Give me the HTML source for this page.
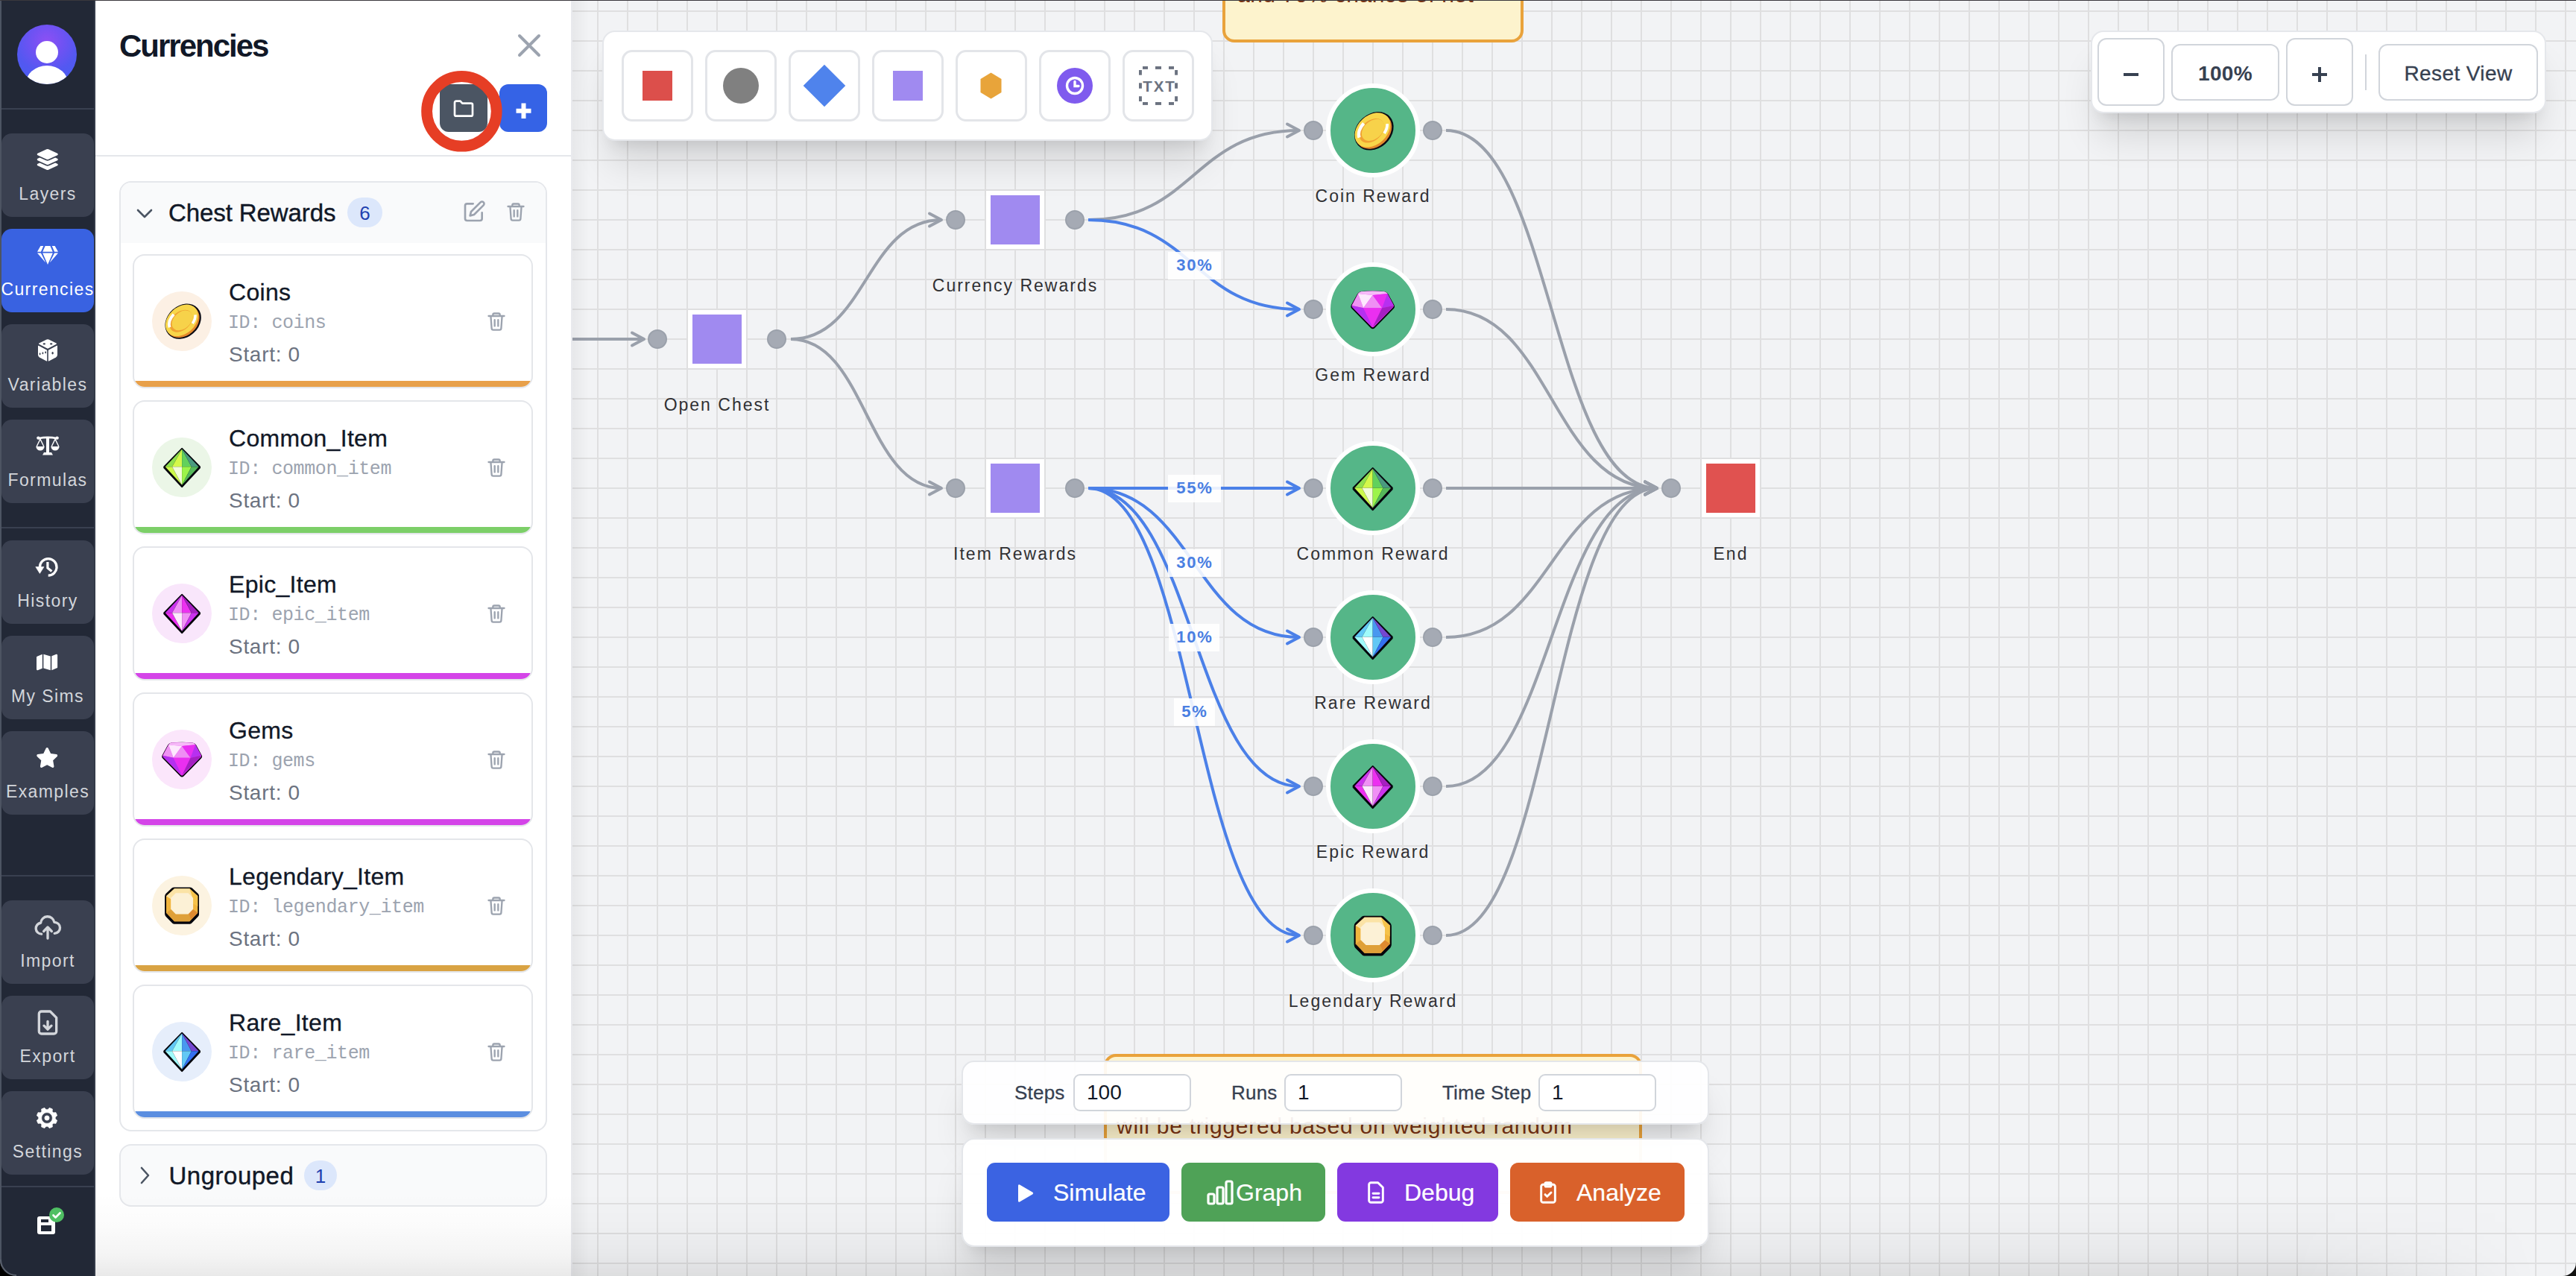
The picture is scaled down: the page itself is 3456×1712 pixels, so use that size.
<!DOCTYPE html>
<html><head><meta charset="utf-8">
<style>
html,body{margin:0;padding:0;width:3456px;height:1712px;overflow:hidden;background:#f2f3f5;font-family:"Liberation Sans",sans-serif;}
.a{position:absolute;display:block}
.t{position:absolute;white-space:nowrap;line-height:1}
svg.a{overflow:visible}
</style><script>(function(){var w=window.innerWidth;if(w&&Math.abs(w-3456)>4){document.documentElement.style.zoom=(w/3456);}})();</script></head><body>
<div class="a" style="left:768px;top:0;width:2688px;height:1712px;background-color:#f2f3f5;background-image:linear-gradient(to right,#dfdfe0 2px,transparent 2px),linear-gradient(to bottom,#dfdfe0 2px,transparent 2px);background-size:40px 40px;background-position:33px 14px"></div>
<svg class="a" style="left:0;top:0" width="3456" height="1712"><path d="M700 455 C782.0 455 782.0 455 864 455" fill="none" stroke="#9aa0ab" stroke-width="4"/><path d="M848 446.5 L864 455 L848 463.5" fill="none" stroke="#9aa0ab" stroke-width="4" stroke-linecap="round" stroke-linejoin="round"/><path d="M1061 455 C1162.0 455 1162.0 295 1263 295" fill="none" stroke="#9aa0ab" stroke-width="4"/><path d="M1247 286.5 L1263 295 L1247 303.5" fill="none" stroke="#9aa0ab" stroke-width="4" stroke-linecap="round" stroke-linejoin="round"/><path d="M1061 455 C1162.0 455 1162.0 655 1263 655" fill="none" stroke="#9aa0ab" stroke-width="4"/><path d="M1247 646.5 L1263 655 L1247 663.5" fill="none" stroke="#9aa0ab" stroke-width="4" stroke-linecap="round" stroke-linejoin="round"/><path d="M1460 295 C1601.5 295 1601.5 175 1743 175" fill="none" stroke="#9aa0ab" stroke-width="4"/><path d="M1727 166.5 L1743 175 L1727 183.5" fill="none" stroke="#9aa0ab" stroke-width="4" stroke-linecap="round" stroke-linejoin="round"/><path d="M1460 295 C1601.5 295 1601.5 415 1743 415" fill="none" stroke="#4b80e8" stroke-width="4"/><path d="M1727 406.5 L1743 415 L1727 423.5" fill="none" stroke="#4b80e8" stroke-width="4" stroke-linecap="round" stroke-linejoin="round"/><path d="M1460 655 C1601.5 655 1601.5 655 1743 655" fill="none" stroke="#4b80e8" stroke-width="4"/><path d="M1727 646.5 L1743 655 L1727 663.5" fill="none" stroke="#4b80e8" stroke-width="4" stroke-linecap="round" stroke-linejoin="round"/><path d="M1460 655 C1601.5 655 1601.5 855 1743 855" fill="none" stroke="#4b80e8" stroke-width="4"/><path d="M1727 846.5 L1743 855 L1727 863.5" fill="none" stroke="#4b80e8" stroke-width="4" stroke-linecap="round" stroke-linejoin="round"/><path d="M1460 655 C1601.5 655 1601.5 1055 1743 1055" fill="none" stroke="#4b80e8" stroke-width="4"/><path d="M1727 1046.5 L1743 1055 L1727 1063.5" fill="none" stroke="#4b80e8" stroke-width="4" stroke-linecap="round" stroke-linejoin="round"/><path d="M1460 655 C1601.5 655 1601.5 1255 1743 1255" fill="none" stroke="#4b80e8" stroke-width="4"/><path d="M1727 1246.5 L1743 1255 L1727 1263.5" fill="none" stroke="#4b80e8" stroke-width="4" stroke-linecap="round" stroke-linejoin="round"/><path d="M1940 175 C2081.5 175 2081.5 655 2223 655" fill="none" stroke="#9aa0ab" stroke-width="4"/><path d="M2207 646.5 L2223 655 L2207 663.5" fill="none" stroke="#9aa0ab" stroke-width="4" stroke-linecap="round" stroke-linejoin="round"/><path d="M1940 415 C2081.5 415 2081.5 655 2223 655" fill="none" stroke="#9aa0ab" stroke-width="4"/><path d="M2207 646.5 L2223 655 L2207 663.5" fill="none" stroke="#9aa0ab" stroke-width="4" stroke-linecap="round" stroke-linejoin="round"/><path d="M1940 655 C2081.5 655 2081.5 655 2223 655" fill="none" stroke="#9aa0ab" stroke-width="4"/><path d="M2207 646.5 L2223 655 L2207 663.5" fill="none" stroke="#9aa0ab" stroke-width="4" stroke-linecap="round" stroke-linejoin="round"/><path d="M1940 855 C2081.5 855 2081.5 655 2223 655" fill="none" stroke="#9aa0ab" stroke-width="4"/><path d="M2207 646.5 L2223 655 L2207 663.5" fill="none" stroke="#9aa0ab" stroke-width="4" stroke-linecap="round" stroke-linejoin="round"/><path d="M1940 1055 C2081.5 1055 2081.5 655 2223 655" fill="none" stroke="#9aa0ab" stroke-width="4"/><path d="M2207 646.5 L2223 655 L2207 663.5" fill="none" stroke="#9aa0ab" stroke-width="4" stroke-linecap="round" stroke-linejoin="round"/><path d="M1940 1255 C2081.5 1255 2081.5 655 2223 655" fill="none" stroke="#9aa0ab" stroke-width="4"/><path d="M2207 646.5 L2223 655 L2207 663.5" fill="none" stroke="#9aa0ab" stroke-width="4" stroke-linecap="round" stroke-linejoin="round"/></svg>
<div class="a" style="left:1566.5px;top:337.5px;width:71px;height:37px;background:rgba(255,255,255,0.88)"></div>
<div class="t" style="left:1103px;width:1000px;text-align:center;top:344.87px;font-size:22px;color:#4a7fe2;font-weight:bold;letter-spacing:1.8px;font-family:'Liberation Sans',sans-serif;">30%</div>
<div class="a" style="left:1566.5px;top:636.5px;width:71px;height:37px;background:rgba(255,255,255,0.88)"></div>
<div class="t" style="left:1103px;width:1000px;text-align:center;top:643.87px;font-size:22px;color:#4a7fe2;font-weight:bold;letter-spacing:1.8px;font-family:'Liberation Sans',sans-serif;">55%</div>
<div class="a" style="left:1566.5px;top:736.5px;width:71px;height:37px;background:rgba(255,255,255,0.88)"></div>
<div class="t" style="left:1103px;width:1000px;text-align:center;top:743.87px;font-size:22px;color:#4a7fe2;font-weight:bold;letter-spacing:1.8px;font-family:'Liberation Sans',sans-serif;">30%</div>
<div class="a" style="left:1568.0px;top:836.5px;width:68px;height:37px;background:rgba(255,255,255,0.88)"></div>
<div class="t" style="left:1103px;width:1000px;text-align:center;top:843.87px;font-size:22px;color:#4a7fe2;font-weight:bold;letter-spacing:1.8px;font-family:'Liberation Sans',sans-serif;">10%</div>
<div class="a" style="left:1574.5px;top:936.5px;width:55px;height:37px;background:rgba(255,255,255,0.88)"></div>
<div class="t" style="left:1103px;width:1000px;text-align:center;top:943.87px;font-size:22px;color:#4a7fe2;font-weight:bold;letter-spacing:1.8px;font-family:'Liberation Sans',sans-serif;">5%</div>
<div class="a" style="left:923px;top:416px;width:66px;height:66px;border:6px solid #fff;background:#a08af0"></div>
<div class="a" style="left:869px;top:442px;width:22px;height:22px;border-radius:50%;background:#a5aab4;border:2px solid #9ba1ab"></div>
<div class="a" style="left:1029px;top:442px;width:22px;height:22px;border-radius:50%;background:#a5aab4;border:2px solid #9ba1ab"></div>
<div class="t" style="left:462px;width:1000px;text-align:center;top:531.53px;font-size:23px;color:#303033;font-weight:normal;letter-spacing:2.0px;font-family:'Liberation Sans',sans-serif;">Open Chest</div>
<div class="a" style="left:1323px;top:256px;width:66px;height:66px;border:6px solid #fff;background:#a08af0"></div>
<div class="a" style="left:1269px;top:282px;width:22px;height:22px;border-radius:50%;background:#a5aab4;border:2px solid #9ba1ab"></div>
<div class="a" style="left:1429px;top:282px;width:22px;height:22px;border-radius:50%;background:#a5aab4;border:2px solid #9ba1ab"></div>
<div class="t" style="left:862px;width:1000px;text-align:center;top:371.53px;font-size:23px;color:#303033;font-weight:normal;letter-spacing:2.0px;font-family:'Liberation Sans',sans-serif;">Currency Rewards</div>
<div class="a" style="left:1323px;top:616px;width:66px;height:66px;border:6px solid #fff;background:#a08af0"></div>
<div class="a" style="left:1269px;top:642px;width:22px;height:22px;border-radius:50%;background:#a5aab4;border:2px solid #9ba1ab"></div>
<div class="a" style="left:1429px;top:642px;width:22px;height:22px;border-radius:50%;background:#a5aab4;border:2px solid #9ba1ab"></div>
<div class="t" style="left:862px;width:1000px;text-align:center;top:731.53px;font-size:23px;color:#303033;font-weight:normal;letter-spacing:2.0px;font-family:'Liberation Sans',sans-serif;">Item Rewards</div>
<div class="a" style="left:2283px;top:616px;width:66px;height:66px;border:6px solid #fff;background:#e05250"></div>
<div class="a" style="left:2229px;top:642px;width:22px;height:22px;border-radius:50%;background:#a5aab4;border:2px solid #9ba1ab"></div>
<div class="t" style="left:1822px;width:1000px;text-align:center;top:731.53px;font-size:23px;color:#303033;font-weight:normal;letter-spacing:2.0px;font-family:'Liberation Sans',sans-serif;">End</div>
<div class="a" style="left:1779px;top:112px;width:114px;height:114px;border:6px solid #fff;border-radius:50%;background:#55b688"></div>
<svg class="a" style="left:1811.3px;top:144.3px" width="61.4" height="61.4" viewBox="-32 -32 64 64"><g transform="rotate(-42)"><ellipse cx="0.5" cy="2" rx="30" ry="24" fill="#0b0b14"/><ellipse cx="0" cy="2" rx="28" ry="21.5" fill="#e4892c"/><ellipse cx="0" cy="-0.5" rx="28" ry="20.5" fill="#f8d64a"/><ellipse cx="-1.5" cy="-0.5" rx="20" ry="14" fill="#f0a233"/><ellipse cx="0.5" cy="0" rx="18" ry="12.5" fill="#f7d24a"/><path d="M-21 -5 A22 15 0 0 1 -3 -15.5" stroke="#fff" stroke-width="4.5" fill="none"/><path d="M21 7 A22 15 0 0 1 9 14" stroke="#fff" stroke-width="4" fill="none"/></g></svg>
<div class="a" style="left:1749px;top:162px;width:22px;height:22px;border-radius:50%;background:#a5aab4;border:2px solid #9ba1ab"></div>
<div class="a" style="left:1909px;top:162px;width:22px;height:22px;border-radius:50%;background:#a5aab4;border:2px solid #9ba1ab"></div>
<div class="t" style="left:1342px;width:1000px;text-align:center;top:251.53px;font-size:23px;color:#303033;font-weight:normal;letter-spacing:2.0px;font-family:'Liberation Sans',sans-serif;">Coin Reward</div>
<div class="a" style="left:1779px;top:352px;width:114px;height:114px;border:6px solid #fff;border-radius:50%;background:#55b688"></div>
<svg class="a" style="left:1811.3px;top:384.3px" width="61.4" height="61.4" viewBox="-32 -32 64 64"><path d="M-16 -24.5 Q0 -26 16 -24.5 Q19 -24 20.5 -21.5 L29 -6 Q30 -4 28.5 -2.5 L2 24.5 Q0 26.5 -2 24.5 L-28.5 -2.5 Q-30 -4 -29 -6 L-20.5 -21.5 Q-19 -24 -16 -24.5Z" fill="#05050c" stroke="#05050c" stroke-width="2.5" stroke-linejoin="round" transform="translate(0 1)"/><path d="M-16 -24.5 Q0 -26 16 -24.5 Q19 -24 20.5 -21.5 L29 -6 Q30 -4 28.5 -2.5 L2 24.5 Q0 26.5 -2 24.5 L-28.5 -2.5 Q-30 -4 -29 -6 L-20.5 -21.5 Q-19 -24 -16 -24.5Z" fill="#ea2ff0"/><path d="M-20.5 -21.5 Q-19 -24 -16 -24.5 Q0 -26 16 -24.5 Q19 -24 20.5 -21.5 L0 -19.5Z" fill="#f6baf8"/><path d="M-20.5 -21.5 L-13 -1.5 L-29 -5 Z" fill="#ef93f3"/><path d="M-20.5 -21.5 L0 -19.5 L-13 -1.5 Z" fill="#fde9fd"/><path d="M0 -19.5 L13 -1.5 H-13 Z" fill="#ef8ef4"/><path d="M0 -19.5 L20.5 -21.5 L13 -1.5 Z" fill="#e92ff0"/><path d="M20.5 -21.5 L29 -5 L13 -1.5 Z" fill="#b730f0"/><path d="M-29 -5 L-13 -1.5 L0 25 L-28.5 -2.5 Z" fill="#b530f0"/><path d="M-13 -1.5 H13 L0 25 Z" fill="#ea2ff0"/><path d="M13 -1.5 L29 -5 L28.5 -2.5 L0 25 Z" fill="#a520c2"/></svg>
<div class="a" style="left:1749px;top:402px;width:22px;height:22px;border-radius:50%;background:#a5aab4;border:2px solid #9ba1ab"></div>
<div class="a" style="left:1909px;top:402px;width:22px;height:22px;border-radius:50%;background:#a5aab4;border:2px solid #9ba1ab"></div>
<div class="t" style="left:1342px;width:1000px;text-align:center;top:491.53px;font-size:23px;color:#303033;font-weight:normal;letter-spacing:2.0px;font-family:'Liberation Sans',sans-serif;">Gem Reward</div>
<div class="a" style="left:1779px;top:592px;width:114px;height:114px;border:6px solid #fff;border-radius:50%;background:#55b688"></div>
<svg class="a" style="left:1811.3px;top:624.3px" width="61.4" height="61.4" viewBox="-32 -32 64 64"><path d="M0 -27.5 L27 0 L0 29 L-27 0 Z" fill="#05050c" stroke="#05050c" stroke-width="2.5" stroke-linejoin="round" transform="translate(0 1.5)"/><path d="M0 -27.5 L27 0 L0 29 L-27 0 Z" fill="#05050c" stroke="#05050c" stroke-width="2.5" stroke-linejoin="round"/><path d="M0 -27 L-25.5 0 L-15 0 Z" fill="#8fe04e"/><path d="M0 -27 L-15 0 L0 0 Z" fill="#d4f84a"/><path d="M0 -27 L0 0 L14.5 0 Z" fill="#62d15c"/><path d="M0 -27 L14.5 0 L25.5 0 Z" fill="#4a9a7f"/><path d="M-25.5 0 L-15 0 L0 28 Z" fill="#cdf94a"/><path d="M-15 0 L0 0 L0 28 Z" fill="#f2fcd8"/><path d="M0 0 L14.5 0 L0 28 Z" fill="#9cf44a"/><path d="M14.5 0 L25.5 0 L0 28 Z" fill="#55b85a"/></svg>
<div class="a" style="left:1749px;top:642px;width:22px;height:22px;border-radius:50%;background:#a5aab4;border:2px solid #9ba1ab"></div>
<div class="a" style="left:1909px;top:642px;width:22px;height:22px;border-radius:50%;background:#a5aab4;border:2px solid #9ba1ab"></div>
<div class="t" style="left:1342px;width:1000px;text-align:center;top:731.53px;font-size:23px;color:#303033;font-weight:normal;letter-spacing:2.0px;font-family:'Liberation Sans',sans-serif;">Common Reward</div>
<div class="a" style="left:1779px;top:792px;width:114px;height:114px;border:6px solid #fff;border-radius:50%;background:#55b688"></div>
<svg class="a" style="left:1811.3px;top:824.3px" width="61.4" height="61.4" viewBox="-32 -32 64 64"><path d="M0 -27.5 L27 0 L0 29 L-27 0 Z" fill="#05050c" stroke="#05050c" stroke-width="2.5" stroke-linejoin="round" transform="translate(0 1.5)"/><path d="M0 -27.5 L27 0 L0 29 L-27 0 Z" fill="#05050c" stroke="#05050c" stroke-width="2.5" stroke-linejoin="round"/><path d="M0 -27 L-25.5 0 L-15 0 Z" fill="#62c8f5"/><path d="M0 -27 L-15 0 L0 0 Z" fill="#a0fbfb"/><path d="M0 -27 L0 0 L14.5 0 Z" fill="#4898f0"/><path d="M0 -27 L14.5 0 L25.5 0 Z" fill="#7547d0"/><path d="M-25.5 0 L-15 0 L0 28 Z" fill="#a0fbfb"/><path d="M-15 0 L0 0 L0 28 Z" fill="#ffffff"/><path d="M0 0 L14.5 0 L0 28 Z" fill="#62c8f5"/><path d="M14.5 0 L25.5 0 L0 28 Z" fill="#3470f0"/></svg>
<div class="a" style="left:1749px;top:842px;width:22px;height:22px;border-radius:50%;background:#a5aab4;border:2px solid #9ba1ab"></div>
<div class="a" style="left:1909px;top:842px;width:22px;height:22px;border-radius:50%;background:#a5aab4;border:2px solid #9ba1ab"></div>
<div class="t" style="left:1342px;width:1000px;text-align:center;top:931.53px;font-size:23px;color:#303033;font-weight:normal;letter-spacing:2.0px;font-family:'Liberation Sans',sans-serif;">Rare Reward</div>
<div class="a" style="left:1779px;top:992px;width:114px;height:114px;border:6px solid #fff;border-radius:50%;background:#55b688"></div>
<svg class="a" style="left:1811.3px;top:1024.3px" width="61.4" height="61.4" viewBox="-32 -32 64 64"><path d="M0 -27.5 L27 0 L0 29 L-27 0 Z" fill="#05050c" stroke="#05050c" stroke-width="2.5" stroke-linejoin="round" transform="translate(0 1.5)"/><path d="M0 -27.5 L27 0 L0 29 L-27 0 Z" fill="#05050c" stroke="#05050c" stroke-width="2.5" stroke-linejoin="round"/><path d="M0 -27 L-25.5 0 L-15 0 Z" fill="#cc33ee"/><path d="M0 -27 L-15 0 L0 0 Z" fill="#f090f5"/><path d="M0 -27 L0 0 L14.5 0 Z" fill="#ec30f0"/><path d="M0 -27 L14.5 0 L25.5 0 Z" fill="#a520c0"/><path d="M-25.5 0 L-15 0 L0 28 Z" fill="#ec30f0"/><path d="M-15 0 L0 0 L0 28 Z" fill="#fdeafd"/><path d="M0 0 L14.5 0 L0 28 Z" fill="#f090f5"/><path d="M14.5 0 L25.5 0 L0 28 Z" fill="#cc33ee"/></svg>
<div class="a" style="left:1749px;top:1042px;width:22px;height:22px;border-radius:50%;background:#a5aab4;border:2px solid #9ba1ab"></div>
<div class="a" style="left:1909px;top:1042px;width:22px;height:22px;border-radius:50%;background:#a5aab4;border:2px solid #9ba1ab"></div>
<div class="t" style="left:1342px;width:1000px;text-align:center;top:1131.53px;font-size:23px;color:#303033;font-weight:normal;letter-spacing:2.0px;font-family:'Liberation Sans',sans-serif;">Epic Reward</div>
<div class="a" style="left:1779px;top:1192px;width:114px;height:114px;border:6px solid #fff;border-radius:50%;background:#55b688"></div>
<svg class="a" style="left:1811.3px;top:1224.3px" width="61.4" height="61.4" viewBox="-32 -32 64 64"><path d="M-12 -27 H12 Q14 -27 15.5 -25.7 L24.3 -17.5 Q26 -16 26 -13.5 V12.5 Q26 15 24.3 16.5 L15.5 25.5 Q14 27.5 12 27.5 H-12 Q-14 27.5 -15.5 25.5 L-24.3 16.5 Q-26 15 -26 12.5 V-13.5 Q-26 -16 -24.3 -17.5 L-15.5 -25.7 Q-14 -27 -12 -27Z" fill="#05050c" transform="translate(0 1.5)"/><path d="M-12 -27 H12 Q14 -27 15.5 -25.7 L24.3 -17.5 Q26 -16 26 -13.5 V12.5 Q26 15 24.3 16.5 L15.5 25.5 Q14 27.5 12 27.5 H-12 Q-14 27.5 -15.5 25.5 L-24.3 16.5 Q-26 15 -26 12.5 V-13.5 Q-26 -16 -24.3 -17.5 L-15.5 -25.7 Q-14 -27 -12 -27Z" fill="#05050c"/><path d="M-11.5 -25 H11.5 L24 -13.5 V12 L11.5 25 H-11.5 L-24 12 V-13.5 Z" fill="#f1b53e"/><path d="M-11.5 -25 H11.5 L24 -13.5 L17 -9 H-17 L-24 -13.5 Z" fill="#fbe3a6"/><path d="M11.5 -25 L24 -13.5 V2 L17 -2 V-9 Z" fill="#f5c24a"/><path d="M-24 12 L-17 7 H17 L24 12 L11.5 25 H-11.5 Z" fill="#dfa038"/><path d="M17 7 L24 12 L14 22 L10 13 Z" fill="#de8a30"/><path d="M-9.5 -18 H9.5 L17 -10.5 V6.5 L9.5 14 H-9.5 L-17 6.5 V-10.5 Z" fill="#fcf1d6"/></svg>
<div class="a" style="left:1749px;top:1242px;width:22px;height:22px;border-radius:50%;background:#a5aab4;border:2px solid #9ba1ab"></div>
<div class="a" style="left:1909px;top:1242px;width:22px;height:22px;border-radius:50%;background:#a5aab4;border:2px solid #9ba1ab"></div>
<div class="t" style="left:1342px;width:1000px;text-align:center;top:1331.53px;font-size:23px;color:#303033;font-weight:normal;letter-spacing:2.0px;font-family:'Liberation Sans',sans-serif;">Legendary Reward</div>
<div class="a" style="left:1640px;top:-200px;width:396px;height:249px;border:4px solid #e9a23b;border-radius:16px;background:#fdf3cd;overflow:hidden"></div>
<div class="t" style="left:1660px;top:-21.90px;font-size:30px;color:#7a3414;font-weight:normal;letter-spacing:0.5px;font-family:'Liberation Sans',sans-serif;">and 70% chance of not</div>
<div class="a" style="left:1481px;top:1414px;width:714px;height:180px;border:4px solid #e9a23b;border-radius:16px;background:#fdf3cd"></div>
<div class="t" style="left:1498px;top:1495.60px;font-size:30px;color:#7a3414;font-weight:normal;letter-spacing:0.75px;font-family:'Liberation Sans',sans-serif;">will be triggered based on weighted random</div>
<div class="a" style="left:808px;top:41px;width:819px;height:148px;box-sizing:border-box;border:2px solid #e5e7eb;border-radius:17px;background:#fff;box-shadow:0 40px 50px -10px rgba(0,0,0,0.12),0 16px 20px -12px rgba(0,0,0,0.10)"></div>
<div class="a" style="left:834px;top:67px;width:90px;height:90px;border:3px solid #e3e5e9;border-radius:14px;background:#fff"></div>
<div class="a" style="left:946px;top:67px;width:90px;height:90px;border:3px solid #e3e5e9;border-radius:14px;background:#fff"></div>
<div class="a" style="left:1058px;top:67px;width:90px;height:90px;border:3px solid #e3e5e9;border-radius:14px;background:#fff"></div>
<div class="a" style="left:1170px;top:67px;width:90px;height:90px;border:3px solid #e3e5e9;border-radius:14px;background:#fff"></div>
<div class="a" style="left:1282px;top:67px;width:90px;height:90px;border:3px solid #e3e5e9;border-radius:14px;background:#fff"></div>
<div class="a" style="left:1394px;top:67px;width:90px;height:90px;border:3px solid #e3e5e9;border-radius:14px;background:#fff"></div>
<div class="a" style="left:1506px;top:67px;width:90px;height:90px;border:3px solid #e3e5e9;border-radius:14px;background:#fff"></div>
<div class="a" style="left:862px;top:95px;width:40px;height:40px;background:#dc4f4b"></div>
<div class="a" style="left:970px;top:91px;width:48px;height:48px;border-radius:50%;background:#808080"></div>
<div class="a" style="left:1085.5px;top:95px;width:40px;height:40px;background:#4f83ec;transform:rotate(45deg)"></div>
<div class="a" style="left:1198px;top:95px;width:40px;height:40px;background:#a08af0"></div>
<svg class="a" style="left:1315px;top:97px" width="29" height="36" viewBox="0 0 29 36"><path d="M14.5 0.5L28.5 9V27L14.5 35.5L0.5 27V9Z" fill="#e8a43a"/></svg>
<div class="a" style="left:1418px;top:91px;width:48px;height:48px;border-radius:50%;background:#7f5bee"></div>
<svg class="a" style="left:1426px;top:99px" width="32" height="32" viewBox="0 0 32 32" fill="none" stroke="#fff" stroke-width="3.4" stroke-linecap="round"><circle cx="16" cy="16" r="10.5"/><path d="M16 10.5V16.5H21"/></svg>
<svg class="a" style="left:1520px;top:80px" width="70" height="70" viewBox="1520 80 70 70"><g fill="#6b7280"><rect x="1533" y="89" width="7" height="3.9"/><rect x="1533" y="137" width="7" height="3.9"/><rect x="1550" y="89" width="8" height="3.9"/><rect x="1550" y="137" width="8" height="3.9"/><rect x="1568" y="89" width="7" height="3.9"/><rect x="1568" y="137" width="7" height="3.9"/><rect x="1528" y="94" width="3.9" height="6.7"/><rect x="1576.1" y="94" width="3.9" height="6.7"/><rect x="1528" y="111.3" width="3.9" height="7.4"/><rect x="1576.1" y="111.3" width="3.9" height="7.4"/><rect x="1528" y="129.2" width="3.9" height="6.8"/><rect x="1576.1" y="129.2" width="3.9" height="6.8"/></g></svg>
<div class="t" style="left:1055.5px;width:1000px;text-align:center;top:105.64px;font-size:20.5px;color:#6b7280;font-weight:bold;letter-spacing:2.0px;font-family:'Liberation Sans',sans-serif;">TXT</div>
<div class="a" style="left:2805px;top:41px;width:611px;height:111px;box-sizing:border-box;border:2px solid #e5e7eb;border-radius:17px;background:#fff;box-shadow:0 40px 50px -10px rgba(0,0,0,0.12),0 16px 20px -12px rgba(0,0,0,0.10)"></div>
<div class="a" style="left:2814px;top:51px;width:90px;height:91px;border:2px solid #d1d5db;border-radius:12px;box-sizing:border-box"></div>
<div class="a" style="left:2913px;top:59px;width:145px;height:76px;border:2px solid #d1d5db;border-radius:12px;box-sizing:border-box"></div>
<div class="a" style="left:3067px;top:51px;width:90px;height:91px;border:2px solid #d1d5db;border-radius:12px;box-sizing:border-box"></div>
<div class="a" style="left:3173px;top:73px;width:2px;height:48px;background:#d1d5db"></div>
<div class="a" style="left:3191px;top:59px;width:214px;height:76px;border:2px solid #d1d5db;border-radius:12px;box-sizing:border-box"></div>
<div class="a" style="left:2849px;top:98px;width:20px;height:4px;background:#374151"></div>
<div class="a" style="left:3102px;top:98px;width:20px;height:4px;background:#374151"></div><div class="a" style="left:3110px;top:90px;width:4px;height:20px;background:#374151"></div>
<div class="t" style="left:2485.5px;width:1000px;text-align:center;top:85.29px;font-size:28px;color:#374151;font-weight:bold;letter-spacing:0.3px;font-family:'Liberation Sans',sans-serif;">100%</div>
<div class="t" style="left:2798px;width:1000px;text-align:center;top:85.29px;font-size:28px;color:#374151;font-weight:normal;letter-spacing:0.4px;font-family:'Liberation Sans',sans-serif;-webkit-text-stroke:0.3px #374151;">Reset View</div>
<div class="a" style="left:768px;top:1600px;width:2688px;height:112px;background:linear-gradient(to bottom,rgba(0,0,0,0) 0%,rgba(0,0,0,0.015) 40%,rgba(0,0,0,0.045) 75%,rgba(0,0,0,0.085) 100%);-webkit-mask-image:linear-gradient(to right,#000 0%,#000 86%,transparent 98%);mask-image:linear-gradient(to right,#000 0%,#000 86%,transparent 98%)"></div>
<div class="a" style="left:1290px;top:1423px;width:1003px;height:86px;box-sizing:border-box;border:2px solid rgba(225,227,232,0.9);border-radius:17px;background:rgba(255,255,255,0.92);box-shadow:0 40px 50px -10px rgba(0,0,0,0.12),0 16px 20px -12px rgba(0,0,0,0.10)"></div>
<div class="t" style="left:1361px;top:1452.99px;font-size:26px;color:#374151;font-weight:normal;letter-spacing:0.2px;font-family:'Liberation Sans',sans-serif;-webkit-text-stroke:0.3px #374151;">Steps</div>
<div class="t" style="left:1652px;top:1452.99px;font-size:26px;color:#374151;font-weight:normal;letter-spacing:0.2px;font-family:'Liberation Sans',sans-serif;-webkit-text-stroke:0.3px #374151;">Runs</div>
<div class="t" style="left:1935px;top:1452.99px;font-size:26px;color:#374151;font-weight:normal;letter-spacing:0.2px;font-family:'Liberation Sans',sans-serif;-webkit-text-stroke:0.3px #374151;">Time Step</div>
<div class="a" style="left:1440px;top:1441px;width:158px;height:50px;border:2px solid #d1d5db;border-radius:9px;box-sizing:border-box;background:#fff"></div>
<div class="t" style="left:1458px;top:1452.29px;font-size:28px;color:#111827;font-weight:normal;letter-spacing:0px;font-family:'Liberation Sans',sans-serif;">100</div>
<div class="a" style="left:1723px;top:1441px;width:158px;height:50px;border:2px solid #d1d5db;border-radius:9px;box-sizing:border-box;background:#fff"></div>
<div class="t" style="left:1741px;top:1452.29px;font-size:28px;color:#111827;font-weight:normal;letter-spacing:0px;font-family:'Liberation Sans',sans-serif;">1</div>
<div class="a" style="left:2064px;top:1441px;width:158px;height:50px;border:2px solid #d1d5db;border-radius:9px;box-sizing:border-box;background:#fff"></div>
<div class="t" style="left:2082px;top:1452.29px;font-size:28px;color:#111827;font-weight:normal;letter-spacing:0px;font-family:'Liberation Sans',sans-serif;">1</div>
<div class="a" style="left:1290px;top:1527px;width:1003px;height:146px;box-sizing:border-box;border:2px solid rgba(225,227,232,0.9);border-radius:17px;background:rgba(255,255,255,0.97);box-shadow:0 40px 50px -10px rgba(0,0,0,0.12),0 16px 20px -12px rgba(0,0,0,0.10)"></div>
<div class="a" style="left:1324px;top:1560px;width:245px;height:79px;border-radius:11px;background:#3b63e2"></div>
<div class="t" style="left:1413px;top:1584.41px;font-size:32px;color:#fff;font-weight:normal;letter-spacing:0px;font-family:'Liberation Sans',sans-serif;-webkit-text-stroke:0.2px #fff;">Simulate</div>
<div class="a" style="left:1585px;top:1560px;width:193px;height:79px;border-radius:11px;background:#4fa257"></div>
<div class="t" style="left:1658px;top:1584.41px;font-size:32px;color:#fff;font-weight:normal;letter-spacing:0px;font-family:'Liberation Sans',sans-serif;-webkit-text-stroke:0.2px #fff;">Graph</div>
<div class="a" style="left:1794px;top:1560px;width:216px;height:79px;border-radius:11px;background:#8339e0"></div>
<div class="t" style="left:1884px;top:1584.41px;font-size:32px;color:#fff;font-weight:normal;letter-spacing:0px;font-family:'Liberation Sans',sans-serif;-webkit-text-stroke:0.2px #fff;">Debug</div>
<div class="a" style="left:2026px;top:1560px;width:234px;height:79px;border-radius:11px;background:#d9612b"></div>
<div class="t" style="left:2115px;top:1584.41px;font-size:32px;color:#fff;font-weight:normal;letter-spacing:0px;font-family:'Liberation Sans',sans-serif;-webkit-text-stroke:0.2px #fff;">Analyze</div>
<svg class="a" style="left:1366px;top:1588px" width="21" height="26" viewBox="0 0 21 26"><path d="M2 1.5Q0 0.5 0 3V23Q0 25.5 2 24.5L19.5 14.3Q21 13 19.5 11.7Z" fill="#fff"/></svg>
<svg class="a" style="left:1619px;top:1583px" width="36" height="34" viewBox="0 0 36 34" fill="none" stroke="#fff" stroke-width="3.2" stroke-linejoin="round"><rect x="2" y="19" width="8" height="13" rx="2"/><rect x="14" y="10" width="8" height="22" rx="2"/><rect x="26" y="2" width="8" height="30" rx="2"/></svg>
<svg class="a" style="left:1830px;top:1583px" width="32" height="34" viewBox="0 0 24 24" fill="none" stroke="#fff" stroke-width="2.2" stroke-linecap="round" stroke-linejoin="round"><path d="M14 2H7a2 2 0 0 0-2 2v16a2 2 0 0 0 2 2h10a2 2 0 0 0 2-2V7z"/><path d="M9 13h6M9 17h6"/></svg>
<svg class="a" style="left:2061px;top:1583px" width="32" height="34" viewBox="0 0 24 24" fill="none" stroke="#fff" stroke-width="2.2" stroke-linecap="round" stroke-linejoin="round"><rect x="5" y="4" width="14" height="18" rx="2"/><rect x="9" y="2" width="6" height="4" rx="1"/><path d="M9 14l2 2 4-4"/></svg>
<div class="a" style="left:0;top:0;width:128px;height:1712px;background:#222836"></div>
<div class="a" style="left:0;top:0;width:2px;height:1712px;background:#4d5462"></div>
<div class="a" style="left:23px;top:33px;width:80px;height:80px;border-radius:50%;overflow:hidden;background:radial-gradient(circle at 50% 28%,#8d50f4 0%,#7052f3 30%,#5358f1 60%,#4a5df1 85%)"><div class="a" style="left:25px;top:22px;width:30px;height:30px;border-radius:50%;background:#fff"></div><div class="a" style="left:11px;top:55px;width:58px;height:52px;border-radius:50%;background:#fff"></div></div>
<div class="a" style="left:2px;top:145px;width:124px;height:2px;background:#394050"></div>
<div class="a" style="left:2px;top:707px;width:124px;height:2px;background:#394050"></div>
<div class="a" style="left:2px;top:1174px;width:124px;height:2px;background:#394050"></div>
<div class="a" style="left:2px;top:1591px;width:124px;height:2px;background:#394050"></div>
<div class="a" style="left:2px;top:179px;width:124px;height:112px;border-radius:14px;background:#3a4050"></div>
<div class="t" style="left:-436px;width:1000px;text-align:center;top:248.53px;font-size:23px;color:#d3d6db;font-weight:normal;letter-spacing:1.4px;font-family:'Liberation Sans',sans-serif;">Layers</div>
<svg class="a" style="left:48.25px;top:200.00px" width="31.50" height="28" viewBox="0 0 576 512"><path fill="#fff" d="M265 5Q288 -5 312 5L530 106Q543 113 544 128Q543 143 530 150L311 251Q288 261 264 251L46 150Q33 143 32 128Q33 113 46 106L265 5ZM477 210 530 234 477 210 530 234Q543 241 544 256Q543 271 530 278L311 379Q288 389 264 379L46 278Q33 271 32 256Q33 241 46 234L99 210L251 280Q288 296 325 280L477 210ZM325 408 477 338 325 408 477 338 530 362Q543 369 544 384Q543 399 530 406L311 507Q288 517 264 507L46 406Q33 399 32 384Q33 369 46 362L99 338L251 408Q288 424 325 408Z"/></svg>
<div class="a" style="left:2px;top:307px;width:124px;height:112px;border-radius:14px;background:#3962e1"></div>
<div class="t" style="left:-436px;width:1000px;text-align:center;top:376.53px;font-size:23px;color:#ffffff;font-weight:normal;letter-spacing:1.4px;font-family:'Liberation Sans',sans-serif;">Currencies</div>
<svg class="a" style="left:50px;top:329.5px" width="28" height="25" viewBox="0 0 576 512"><path fill="#fff" d="M485.5 0L576 160H474.9L405.7 0h79.8zm-128 0l69.2 160H149.3L218.5 0h139zm-267 0h79.8l-69.2 160H0L90.5 0zM0 192h100.7l123 251.7c1.5 3.1-2.7 5.9-5 3.3L0 192zm148.2 0h279.6l-137 318.2c-1 2.4-4.5 2.4-5.5 0L148.2 192zm204.1 251.7l123-251.7H576L357.3 446.9c-2.3 2.7-6.5-.1-5-3.2z"/></svg>
<div class="a" style="left:2px;top:435px;width:124px;height:112px;border-radius:14px;background:#3a4050"></div>
<div class="t" style="left:-436px;width:1000px;text-align:center;top:504.53px;font-size:23px;color:#d3d6db;font-weight:normal;letter-spacing:1.4px;font-family:'Liberation Sans',sans-serif;">Variables</div>
<svg class="a" style="left:50px;top:455px" width="28" height="30" viewBox="0 0 28 30"><path fill="#fff" d="M12.6 0.6Q14 0 15.4 0.6L25.6 5.6Q26.4 6.2 25.6 6.8L14.6 12.6Q14 12.9 13.4 12.6L2.4 6.8Q1.6 6.2 2.4 5.6Z"/><path fill="#fff" d="M1 9.2Q1 8.4 1.8 8.8L12.6 14.6Q13.2 15 13.2 15.8V29Q13.2 29.8 12.4 29.4L3 24.4Q1 23.2 1 21Z"/><path fill="#fff" d="M27 9.2Q27 8.4 26.2 8.8L15.4 14.6Q14.8 15 14.8 15.8V29Q14.8 29.8 15.6 29.4L25 24.4Q27 23.2 27 21Z"/><ellipse cx="9.3" cy="6.4" rx="1.7" ry="1.1" fill="#3a4050"/><ellipse cx="18.7" cy="6.4" rx="1.7" ry="1.1" fill="#3a4050"/><ellipse cx="3.6" cy="19.8" rx="0.9" ry="1.5" fill="#3a4050"/><ellipse cx="7.4" cy="18.8" rx="0.9" ry="1.5" fill="#3a4050"/><ellipse cx="11.2" cy="17.8" rx="0.9" ry="1.5" fill="#3a4050"/><ellipse cx="20.6" cy="18.8" rx="1.2" ry="1.7" fill="#3a4050"/></svg>
<div class="a" style="left:2px;top:563px;width:124px;height:112px;border-radius:14px;background:#3a4050"></div>
<div class="t" style="left:-436px;width:1000px;text-align:center;top:632.53px;font-size:23px;color:#d3d6db;font-weight:normal;letter-spacing:1.4px;font-family:'Liberation Sans',sans-serif;">Formulas</div>
<svg class="a" style="left:48px;top:584.5px" width="32" height="27" viewBox="0 0 32 27"><circle cx="3.4" cy="2.6" r="2.2" fill="#fff"/><circle cx="28.6" cy="2.6" r="2.2" fill="#fff"/><path d="M3.4 3.2Q16 0.6 28.6 3.2" stroke="#fff" stroke-width="2.6" fill="none"/><rect x="14" y="2" width="4" height="22" fill="#fff"/><path d="M9 25.5L11 22H21L23 25.5Z" fill="#fff"/><path d="M0.4 14A5.6 5.6 0 0 0 11.6 14Z" fill="#fff"/><path d="M20.4 14A5.6 5.6 0 0 0 31.6 14Z" fill="#fff"/><path d="M1.2 14L6 4.2L10.8 14" stroke="#fff" stroke-width="1.4" fill="none"/><path d="M21.2 14L26 4.2L30.8 14" stroke="#fff" stroke-width="1.4" fill="none"/></svg>
<div class="a" style="left:2px;top:725px;width:124px;height:112px;border-radius:14px;background:#3a4050"></div>
<div class="t" style="left:-436px;width:1000px;text-align:center;top:794.53px;font-size:23px;color:#d3d6db;font-weight:normal;letter-spacing:1.4px;font-family:'Liberation Sans',sans-serif;">History</div>
<svg class="a" style="left:44px;top:740px" width="40" height="40" viewBox="44 740 40 40"><path d="M64.7 772.2 A11.3 11.3 0 1 0 53.4 760.9" fill="none" stroke="#fff" stroke-width="3.3"/><path d="M47.8 760.6 H59 L53.4 769.4Z" fill="#fff" stroke="#fff" stroke-width="0.6" stroke-linejoin="round"/><path d="M63.9 754 V762 L69.4 766.6" fill="none" stroke="#fff" stroke-width="3.2"/></svg>
<div class="a" style="left:2px;top:853px;width:124px;height:112px;border-radius:14px;background:#3a4050"></div>
<div class="t" style="left:-436px;width:1000px;text-align:center;top:922.53px;font-size:23px;color:#d3d6db;font-weight:normal;letter-spacing:1.4px;font-family:'Liberation Sans',sans-serif;">My Sims</div>
<svg class="a" style="left:48.94px;top:875.50px" width="28.12" height="25" viewBox="0 0 576 512"><path fill="#fff" d="M384 476 192 421 384 476 192 421V36L384 91V476ZM416 475V88V475V88L543 38Q556 33 565 40Q575 47 576 60V395Q575 410 561 417L416 475ZM15 95 160 37 15 95 160 37V424L33 475Q20 479 11 472Q1 465 0 452V117Q1 102 15 95Z"/></svg>
<div class="a" style="left:2px;top:981px;width:124px;height:112px;border-radius:14px;background:#3a4050"></div>
<div class="t" style="left:-436px;width:1000px;text-align:center;top:1050.53px;font-size:23px;color:#d3d6db;font-weight:normal;letter-spacing:1.4px;font-family:'Liberation Sans',sans-serif;">Examples</div>
<svg class="a" style="left:48.11px;top:1003.00px" width="30.38" height="27" viewBox="0 0 576 512"><path fill="#fff" d="M317 18Q308 1 288 0Q269 1 259 18L195 150L51 172Q32 175 26 193Q20 212 34 226L138 329L113 475Q111 494 126 506Q142 517 160 508L288 440L417 508Q434 517 450 506Q466 494 463 475L439 329L543 226Q556 212 551 193Q544 175 525 172L381 150L317 18Z"/></svg>
<div class="a" style="left:2px;top:1208px;width:124px;height:112px;border-radius:14px;background:#3a4050"></div>
<div class="t" style="left:-436px;width:1000px;text-align:center;top:1277.53px;font-size:23px;color:#d3d6db;font-weight:normal;letter-spacing:1.4px;font-family:'Liberation Sans',sans-serif;">Import</div>
<div class="a" style="left:2px;top:1336px;width:124px;height:112px;border-radius:14px;background:#3a4050"></div>
<div class="t" style="left:-436px;width:1000px;text-align:center;top:1405.53px;font-size:23px;color:#d3d6db;font-weight:normal;letter-spacing:1.4px;font-family:'Liberation Sans',sans-serif;">Export</div>
<div class="a" style="left:2px;top:1464px;width:124px;height:112px;border-radius:14px;background:#3a4050"></div>
<div class="t" style="left:-436px;width:1000px;text-align:center;top:1533.53px;font-size:23px;color:#d3d6db;font-weight:normal;letter-spacing:1.4px;font-family:'Liberation Sans',sans-serif;">Settings</div>
<svg class="a" style="left:48px;top:1485px" width="30" height="30" viewBox="-15 -15 30 30"><path fill="#fff" fill-rule="evenodd" stroke="#fff" stroke-width="0.8" stroke-linejoin="round" d="M11.15 1.07 L13.61 3.27 L11.94 7.31 L8.64 7.12 L7.12 8.64 L7.31 11.94 L3.27 13.61 L1.07 11.15 L-1.07 11.15 L-3.27 13.61 L-7.31 11.94 L-7.12 8.64 L-8.64 7.12 L-11.94 7.31 L-13.61 3.27 L-11.15 1.07 L-11.15 -1.07 L-13.61 -3.27 L-11.94 -7.31 L-8.64 -7.12 L-7.12 -8.64 L-7.31 -11.94 L-3.27 -13.61 L-1.07 -11.15 L1.07 -11.15 L3.27 -13.61 L7.31 -11.94 L7.12 -8.64 L8.64 -7.12 L11.94 -7.31 L13.61 -3.27 L11.15 -1.07Z M7.4 0 A7.4 7.4 0 1 0 -7.4 0 A7.4 7.4 0 1 0 7.4 0Z M3.1 0 A3.1 3.1 0 1 1 -3.1 0 A3.1 3.1 0 1 1 3.1 0Z"/></svg>
<svg class="a" style="left:44px;top:1224px" width="40" height="40" viewBox="0 0 24 24" fill="none" stroke="#d3d6db" stroke-width="2" stroke-linecap="round" stroke-linejoin="round"><path d="M7 17.5a4.5 4.5 0 0 1-.6-8.96A5.5 5.5 0 0 1 17.3 8a4 4 0 0 1 .2 9"/><path d="M12 21V12.5M8.8 15.3 12 12l3.2 3.3"/></svg>
<svg class="a" style="left:44px;top:1352px" width="40" height="40" viewBox="0 0 24 24" fill="none" stroke="#d3d6db" stroke-width="2" stroke-linecap="round" stroke-linejoin="round"><path d="M14 3H7a2 2 0 0 0-2 2v14a2 2 0 0 0 2 2h10a2 2 0 0 0 2-2V8z"/><path d="M12 11v6M9 14.5l3 3 3-3"/></svg>
<svg class="a" style="left:46px;top:1622px" width="40" height="40" viewBox="0 0 40 40"><rect x="4" y="10" width="24" height="24" rx="3" fill="#fff"/><rect x="9" y="22" width="14" height="8" fill="#222836"/><rect x="9" y="14" width="10" height="4" fill="#222836"/><circle cx="30" cy="8" r="10" fill="#4fbf63"/><path d="M25.5 8.5l3 3 6-6" fill="none" stroke="#fff" stroke-width="2.6" stroke-linecap="round" stroke-linejoin="round"/></svg>
<div class="a" style="left:766px;top:0;width:24px;height:1712px;background:linear-gradient(to right,rgba(0,0,0,0.05),rgba(0,0,0,0))"></div>
<div class="a" style="left:128px;top:0;width:638px;height:1712px;background:#fff"></div>
<div class="a" style="left:126px;top:0;width:2px;height:1712px;background:#343b49"></div>
<div class="a" style="left:766px;top:0;width:2px;height:1712px;background:#e9eaee"></div>
<div class="t" style="left:160px;top:41.44px;font-size:42px;color:#111827;font-weight:bold;letter-spacing:-2.0px;font-family:'Liberation Sans',sans-serif;">Currencies</div>
<svg class="a" style="left:690px;top:41px" width="40" height="40" viewBox="0 0 40 40"><path d="M7 7L33 33M33 7L7 33" stroke="#9ca3af" stroke-width="4" stroke-linecap="round"/></svg>
<div class="a" style="left:590px;top:113px;width:64px;height:64px;border-radius:12px;background:#4b5563"></div>
<svg class="a" style="left:606px;top:129px" width="32" height="32" viewBox="0 0 24 24" fill="none" stroke="#fff" stroke-width="2" stroke-linejoin="round"><path d="M3 6.5a1.5 1.5 0 0 1 1.5-1.5h4.2l2 2.2h8.8A1.5 1.5 0 0 1 21 8.7v9.8a1.5 1.5 0 0 1-1.5 1.5h-15A1.5 1.5 0 0 1 3 18.5z"/></svg>
<div class="a" style="left:670px;top:113px;width:64px;height:64px;border-radius:12px;background:#3563e6"></div>
<svg class="a" style="left:682px;top:129px" width="40" height="40" viewBox="0 0 40 40"><path d="M20.5 9.5V30M10.5 19.8H30.5" stroke="#fff" stroke-width="6"/></svg>
<svg class="a" style="left:555px;top:85px" width="130" height="130" viewBox="0 0 130 130"><circle cx="64.4" cy="64.3" r="46.8" fill="none" stroke="#e63e25" stroke-width="14.8"/></svg>
<div class="a" style="left:128px;top:208px;width:638px;height:2px;background:#e5e7eb"></div>
<div class="a" style="left:160px;top:243px;width:570px;height:1271px;border:2px solid #e5e7eb;border-radius:16px;background:#fff;overflow:hidden"><div class="a" style="left:0;top:0;width:570px;height:81px;background:#f9fafb"></div></div>
<svg class="a" style="left:182px;top:274px" width="24" height="24" viewBox="0 0 24 24"><path d="M3 8l9 9 9-9" fill="none" stroke="#4b5563" stroke-width="2.6" stroke-linecap="round" stroke-linejoin="round"/></svg>
<div class="t" style="left:226px;top:269.06px;font-size:33px;color:#111827;font-weight:normal;letter-spacing:-0.1px;font-family:'Liberation Sans',sans-serif;-webkit-text-stroke:0.4px #111827;">Chest Rewards</div>
<div class="a" style="left:466px;top:265px;width:47px;height:40px;border-radius:20px;background:#dce7fb"></div>
<div class="t" style="left:-10.5px;width:1000px;text-align:center;top:272.99px;font-size:26px;color:#1e40af;font-weight:normal;letter-spacing:0px;font-family:'Liberation Sans',sans-serif;">6</div>
<svg class="a" style="left:620px;top:268px" width="32" height="32" viewBox="0 0 24 24" fill="none" stroke="#9ca3af" stroke-width="2" stroke-linecap="round" stroke-linejoin="round"><path d="M11 4H5a2 2 0 0 0-2 2v13a2 2 0 0 0 2 2h13a2 2 0 0 0 2-2v-6"/><path d="M18.5 2.5a2.1 2.1 0 0 1 3 3L12 15l-4 1 1-4z"/></svg>
<svg class="a" style="left:678px;top:270px" width="28" height="28" viewBox="0 0 24 24" fill="none" stroke="#9ca3af" stroke-width="2" stroke-linecap="round" stroke-linejoin="round"><path d="M3 6h18M8 6V4.5A1.5 1.5 0 0 1 9.5 3h5A1.5 1.5 0 0 1 16 4.5V6M5.5 6l1 14a2 2 0 0 0 2 2h7a2 2 0 0 0 2-2l1-14M10 10.5v7M14 10.5v7"/></svg>
<div class="a" style="left:178px;top:341px;width:533px;height:176px;border:2px solid #e4e6ea;border-radius:16px;background:#fff;overflow:hidden"><div class="a" style="left:0;right:0;bottom:0;height:8px;background:#e8a04a"></div></div>
<div class="a" style="left:204px;top:390.5px;width:80px;height:80px;border-radius:50%;background:#fcf0e4"></div>
<svg class="a" style="left:215.8px;top:402.3px" width="56.3" height="56.3" viewBox="-32 -32 64 64"><g transform="rotate(-42)"><ellipse cx="0.5" cy="2" rx="30" ry="24" fill="#0b0b14"/><ellipse cx="0" cy="2" rx="28" ry="21.5" fill="#e4892c"/><ellipse cx="0" cy="-0.5" rx="28" ry="20.5" fill="#f8d64a"/><ellipse cx="-1.5" cy="-0.5" rx="20" ry="14" fill="#f0a233"/><ellipse cx="0.5" cy="0" rx="18" ry="12.5" fill="#f7d24a"/><path d="M-21 -5 A22 15 0 0 1 -3 -15.5" stroke="#fff" stroke-width="4.5" fill="none"/><path d="M21 7 A22 15 0 0 1 9 14" stroke="#fff" stroke-width="4" fill="none"/></g></svg>
<div class="t" style="left:307px;top:375.91px;font-size:32px;color:#111827;font-weight:normal;letter-spacing:0.3px;font-family:'Liberation Sans',sans-serif;-webkit-text-stroke:0.3px #111827;">Coins</div>
<div class="t" style="left:306px;top:420.85px;font-size:25px;color:#9ca3af;font-weight:normal;letter-spacing:-0.4px;font-family:'Liberation Mono',monospace;">ID: coins</div>
<div class="t" style="left:307px;top:462.29px;font-size:28px;color:#6b7280;font-weight:normal;letter-spacing:0.7px;font-family:'Liberation Sans',sans-serif;">Start: 0</div>
<svg class="a" style="left:652px;top:417px" width="28" height="28" viewBox="0 0 24 24" fill="none" stroke="#9ca3af" stroke-width="2" stroke-linecap="round" stroke-linejoin="round"><path d="M3 6h18M8 6V4.5A1.5 1.5 0 0 1 9.5 3h5A1.5 1.5 0 0 1 16 4.5V6M5.5 6l1 14a2 2 0 0 0 2 2h7a2 2 0 0 0 2-2l1-14M10 10.5v7M14 10.5v7"/></svg>
<div class="a" style="left:178px;top:537px;width:533px;height:176px;border:2px solid #e4e6ea;border-radius:16px;background:#fff;overflow:hidden"><div class="a" style="left:0;right:0;bottom:0;height:8px;background:#7ccf68"></div></div>
<div class="a" style="left:204px;top:586.5px;width:80px;height:80px;border-radius:50%;background:#ebf6e7"></div>
<svg class="a" style="left:215.8px;top:598.3px" width="56.3" height="56.3" viewBox="-32 -32 64 64"><path d="M0 -27.5 L27 0 L0 29 L-27 0 Z" fill="#05050c" stroke="#05050c" stroke-width="2.5" stroke-linejoin="round" transform="translate(0 1.5)"/><path d="M0 -27.5 L27 0 L0 29 L-27 0 Z" fill="#05050c" stroke="#05050c" stroke-width="2.5" stroke-linejoin="round"/><path d="M0 -27 L-25.5 0 L-15 0 Z" fill="#8fe04e"/><path d="M0 -27 L-15 0 L0 0 Z" fill="#d4f84a"/><path d="M0 -27 L0 0 L14.5 0 Z" fill="#62d15c"/><path d="M0 -27 L14.5 0 L25.5 0 Z" fill="#4a9a7f"/><path d="M-25.5 0 L-15 0 L0 28 Z" fill="#cdf94a"/><path d="M-15 0 L0 0 L0 28 Z" fill="#f2fcd8"/><path d="M0 0 L14.5 0 L0 28 Z" fill="#9cf44a"/><path d="M14.5 0 L25.5 0 L0 28 Z" fill="#55b85a"/></svg>
<div class="t" style="left:307px;top:571.91px;font-size:32px;color:#111827;font-weight:normal;letter-spacing:0.3px;font-family:'Liberation Sans',sans-serif;-webkit-text-stroke:0.3px #111827;">Common_Item</div>
<div class="t" style="left:306px;top:616.85px;font-size:25px;color:#9ca3af;font-weight:normal;letter-spacing:-0.4px;font-family:'Liberation Mono',monospace;">ID: common_item</div>
<div class="t" style="left:307px;top:658.29px;font-size:28px;color:#6b7280;font-weight:normal;letter-spacing:0.7px;font-family:'Liberation Sans',sans-serif;">Start: 0</div>
<svg class="a" style="left:652px;top:613px" width="28" height="28" viewBox="0 0 24 24" fill="none" stroke="#9ca3af" stroke-width="2" stroke-linecap="round" stroke-linejoin="round"><path d="M3 6h18M8 6V4.5A1.5 1.5 0 0 1 9.5 3h5A1.5 1.5 0 0 1 16 4.5V6M5.5 6l1 14a2 2 0 0 0 2 2h7a2 2 0 0 0 2-2l1-14M10 10.5v7M14 10.5v7"/></svg>
<div class="a" style="left:178px;top:733px;width:533px;height:176px;border:2px solid #e4e6ea;border-radius:16px;background:#fff;overflow:hidden"><div class="a" style="left:0;right:0;bottom:0;height:8px;background:#d444e8"></div></div>
<div class="a" style="left:204px;top:782.5px;width:80px;height:80px;border-radius:50%;background:#f9e6fb"></div>
<svg class="a" style="left:215.8px;top:794.3px" width="56.3" height="56.3" viewBox="-32 -32 64 64"><path d="M0 -27.5 L27 0 L0 29 L-27 0 Z" fill="#05050c" stroke="#05050c" stroke-width="2.5" stroke-linejoin="round" transform="translate(0 1.5)"/><path d="M0 -27.5 L27 0 L0 29 L-27 0 Z" fill="#05050c" stroke="#05050c" stroke-width="2.5" stroke-linejoin="round"/><path d="M0 -27 L-25.5 0 L-15 0 Z" fill="#cc33ee"/><path d="M0 -27 L-15 0 L0 0 Z" fill="#f090f5"/><path d="M0 -27 L0 0 L14.5 0 Z" fill="#ec30f0"/><path d="M0 -27 L14.5 0 L25.5 0 Z" fill="#a520c0"/><path d="M-25.5 0 L-15 0 L0 28 Z" fill="#ec30f0"/><path d="M-15 0 L0 0 L0 28 Z" fill="#fdeafd"/><path d="M0 0 L14.5 0 L0 28 Z" fill="#f090f5"/><path d="M14.5 0 L25.5 0 L0 28 Z" fill="#cc33ee"/></svg>
<div class="t" style="left:307px;top:767.91px;font-size:32px;color:#111827;font-weight:normal;letter-spacing:0.3px;font-family:'Liberation Sans',sans-serif;-webkit-text-stroke:0.3px #111827;">Epic_Item</div>
<div class="t" style="left:306px;top:812.85px;font-size:25px;color:#9ca3af;font-weight:normal;letter-spacing:-0.4px;font-family:'Liberation Mono',monospace;">ID: epic_item</div>
<div class="t" style="left:307px;top:854.29px;font-size:28px;color:#6b7280;font-weight:normal;letter-spacing:0.7px;font-family:'Liberation Sans',sans-serif;">Start: 0</div>
<svg class="a" style="left:652px;top:809px" width="28" height="28" viewBox="0 0 24 24" fill="none" stroke="#9ca3af" stroke-width="2" stroke-linecap="round" stroke-linejoin="round"><path d="M3 6h18M8 6V4.5A1.5 1.5 0 0 1 9.5 3h5A1.5 1.5 0 0 1 16 4.5V6M5.5 6l1 14a2 2 0 0 0 2 2h7a2 2 0 0 0 2-2l1-14M10 10.5v7M14 10.5v7"/></svg>
<div class="a" style="left:178px;top:929px;width:533px;height:176px;border:2px solid #e4e6ea;border-radius:16px;background:#fff;overflow:hidden"><div class="a" style="left:0;right:0;bottom:0;height:8px;background:#d444e8"></div></div>
<div class="a" style="left:204px;top:978.5px;width:80px;height:80px;border-radius:50%;background:#fbe6fb"></div>
<svg class="a" style="left:215.8px;top:990.3px" width="56.3" height="56.3" viewBox="-32 -32 64 64"><path d="M-16 -24.5 Q0 -26 16 -24.5 Q19 -24 20.5 -21.5 L29 -6 Q30 -4 28.5 -2.5 L2 24.5 Q0 26.5 -2 24.5 L-28.5 -2.5 Q-30 -4 -29 -6 L-20.5 -21.5 Q-19 -24 -16 -24.5Z" fill="#05050c" stroke="#05050c" stroke-width="2.5" stroke-linejoin="round" transform="translate(0 1)"/><path d="M-16 -24.5 Q0 -26 16 -24.5 Q19 -24 20.5 -21.5 L29 -6 Q30 -4 28.5 -2.5 L2 24.5 Q0 26.5 -2 24.5 L-28.5 -2.5 Q-30 -4 -29 -6 L-20.5 -21.5 Q-19 -24 -16 -24.5Z" fill="#ea2ff0"/><path d="M-20.5 -21.5 Q-19 -24 -16 -24.5 Q0 -26 16 -24.5 Q19 -24 20.5 -21.5 L0 -19.5Z" fill="#f6baf8"/><path d="M-20.5 -21.5 L-13 -1.5 L-29 -5 Z" fill="#ef93f3"/><path d="M-20.5 -21.5 L0 -19.5 L-13 -1.5 Z" fill="#fde9fd"/><path d="M0 -19.5 L13 -1.5 H-13 Z" fill="#ef8ef4"/><path d="M0 -19.5 L20.5 -21.5 L13 -1.5 Z" fill="#e92ff0"/><path d="M20.5 -21.5 L29 -5 L13 -1.5 Z" fill="#b730f0"/><path d="M-29 -5 L-13 -1.5 L0 25 L-28.5 -2.5 Z" fill="#b530f0"/><path d="M-13 -1.5 H13 L0 25 Z" fill="#ea2ff0"/><path d="M13 -1.5 L29 -5 L28.5 -2.5 L0 25 Z" fill="#a520c2"/></svg>
<div class="t" style="left:307px;top:963.91px;font-size:32px;color:#111827;font-weight:normal;letter-spacing:0.3px;font-family:'Liberation Sans',sans-serif;-webkit-text-stroke:0.3px #111827;">Gems</div>
<div class="t" style="left:306px;top:1008.85px;font-size:25px;color:#9ca3af;font-weight:normal;letter-spacing:-0.4px;font-family:'Liberation Mono',monospace;">ID: gems</div>
<div class="t" style="left:307px;top:1050.29px;font-size:28px;color:#6b7280;font-weight:normal;letter-spacing:0.7px;font-family:'Liberation Sans',sans-serif;">Start: 0</div>
<svg class="a" style="left:652px;top:1005px" width="28" height="28" viewBox="0 0 24 24" fill="none" stroke="#9ca3af" stroke-width="2" stroke-linecap="round" stroke-linejoin="round"><path d="M3 6h18M8 6V4.5A1.5 1.5 0 0 1 9.5 3h5A1.5 1.5 0 0 1 16 4.5V6M5.5 6l1 14a2 2 0 0 0 2 2h7a2 2 0 0 0 2-2l1-14M10 10.5v7M14 10.5v7"/></svg>
<div class="a" style="left:178px;top:1125px;width:533px;height:176px;border:2px solid #e4e6ea;border-radius:16px;background:#fff;overflow:hidden"><div class="a" style="left:0;right:0;bottom:0;height:8px;background:#d9a343"></div></div>
<div class="a" style="left:204px;top:1174.5px;width:80px;height:80px;border-radius:50%;background:#fcf3e1"></div>
<svg class="a" style="left:215.8px;top:1186.3px" width="56.3" height="56.3" viewBox="-32 -32 64 64"><path d="M-12 -27 H12 Q14 -27 15.5 -25.7 L24.3 -17.5 Q26 -16 26 -13.5 V12.5 Q26 15 24.3 16.5 L15.5 25.5 Q14 27.5 12 27.5 H-12 Q-14 27.5 -15.5 25.5 L-24.3 16.5 Q-26 15 -26 12.5 V-13.5 Q-26 -16 -24.3 -17.5 L-15.5 -25.7 Q-14 -27 -12 -27Z" fill="#05050c" transform="translate(0 1.5)"/><path d="M-12 -27 H12 Q14 -27 15.5 -25.7 L24.3 -17.5 Q26 -16 26 -13.5 V12.5 Q26 15 24.3 16.5 L15.5 25.5 Q14 27.5 12 27.5 H-12 Q-14 27.5 -15.5 25.5 L-24.3 16.5 Q-26 15 -26 12.5 V-13.5 Q-26 -16 -24.3 -17.5 L-15.5 -25.7 Q-14 -27 -12 -27Z" fill="#05050c"/><path d="M-11.5 -25 H11.5 L24 -13.5 V12 L11.5 25 H-11.5 L-24 12 V-13.5 Z" fill="#f1b53e"/><path d="M-11.5 -25 H11.5 L24 -13.5 L17 -9 H-17 L-24 -13.5 Z" fill="#fbe3a6"/><path d="M11.5 -25 L24 -13.5 V2 L17 -2 V-9 Z" fill="#f5c24a"/><path d="M-24 12 L-17 7 H17 L24 12 L11.5 25 H-11.5 Z" fill="#dfa038"/><path d="M17 7 L24 12 L14 22 L10 13 Z" fill="#de8a30"/><path d="M-9.5 -18 H9.5 L17 -10.5 V6.5 L9.5 14 H-9.5 L-17 6.5 V-10.5 Z" fill="#fcf1d6"/></svg>
<div class="t" style="left:307px;top:1159.91px;font-size:32px;color:#111827;font-weight:normal;letter-spacing:0.3px;font-family:'Liberation Sans',sans-serif;-webkit-text-stroke:0.3px #111827;">Legendary_Item</div>
<div class="t" style="left:306px;top:1204.85px;font-size:25px;color:#9ca3af;font-weight:normal;letter-spacing:-0.4px;font-family:'Liberation Mono',monospace;">ID: legendary_item</div>
<div class="t" style="left:307px;top:1246.29px;font-size:28px;color:#6b7280;font-weight:normal;letter-spacing:0.7px;font-family:'Liberation Sans',sans-serif;">Start: 0</div>
<svg class="a" style="left:652px;top:1201px" width="28" height="28" viewBox="0 0 24 24" fill="none" stroke="#9ca3af" stroke-width="2" stroke-linecap="round" stroke-linejoin="round"><path d="M3 6h18M8 6V4.5A1.5 1.5 0 0 1 9.5 3h5A1.5 1.5 0 0 1 16 4.5V6M5.5 6l1 14a2 2 0 0 0 2 2h7a2 2 0 0 0 2-2l1-14M10 10.5v7M14 10.5v7"/></svg>
<div class="a" style="left:178px;top:1321px;width:533px;height:176px;border:2px solid #e4e6ea;border-radius:16px;background:#fff;overflow:hidden"><div class="a" style="left:0;right:0;bottom:0;height:8px;background:#5b8ee0"></div></div>
<div class="a" style="left:204px;top:1370.5px;width:80px;height:80px;border-radius:50%;background:#e6eefb"></div>
<svg class="a" style="left:215.8px;top:1382.3px" width="56.3" height="56.3" viewBox="-32 -32 64 64"><path d="M0 -27.5 L27 0 L0 29 L-27 0 Z" fill="#05050c" stroke="#05050c" stroke-width="2.5" stroke-linejoin="round" transform="translate(0 1.5)"/><path d="M0 -27.5 L27 0 L0 29 L-27 0 Z" fill="#05050c" stroke="#05050c" stroke-width="2.5" stroke-linejoin="round"/><path d="M0 -27 L-25.5 0 L-15 0 Z" fill="#62c8f5"/><path d="M0 -27 L-15 0 L0 0 Z" fill="#a0fbfb"/><path d="M0 -27 L0 0 L14.5 0 Z" fill="#4898f0"/><path d="M0 -27 L14.5 0 L25.5 0 Z" fill="#7547d0"/><path d="M-25.5 0 L-15 0 L0 28 Z" fill="#a0fbfb"/><path d="M-15 0 L0 0 L0 28 Z" fill="#ffffff"/><path d="M0 0 L14.5 0 L0 28 Z" fill="#62c8f5"/><path d="M14.5 0 L25.5 0 L0 28 Z" fill="#3470f0"/></svg>
<div class="t" style="left:307px;top:1355.91px;font-size:32px;color:#111827;font-weight:normal;letter-spacing:0.3px;font-family:'Liberation Sans',sans-serif;-webkit-text-stroke:0.3px #111827;">Rare_Item</div>
<div class="t" style="left:306px;top:1400.85px;font-size:25px;color:#9ca3af;font-weight:normal;letter-spacing:-0.4px;font-family:'Liberation Mono',monospace;">ID: rare_item</div>
<div class="t" style="left:307px;top:1442.29px;font-size:28px;color:#6b7280;font-weight:normal;letter-spacing:0.7px;font-family:'Liberation Sans',sans-serif;">Start: 0</div>
<svg class="a" style="left:652px;top:1397px" width="28" height="28" viewBox="0 0 24 24" fill="none" stroke="#9ca3af" stroke-width="2" stroke-linecap="round" stroke-linejoin="round"><path d="M3 6h18M8 6V4.5A1.5 1.5 0 0 1 9.5 3h5A1.5 1.5 0 0 1 16 4.5V6M5.5 6l1 14a2 2 0 0 0 2 2h7a2 2 0 0 0 2-2l1-14M10 10.5v7M14 10.5v7"/></svg>
<div class="a" style="left:160px;top:1535px;width:570px;height:80px;border:2px solid #e5e7eb;border-radius:16px;background:#f9fafb"></div>
<svg class="a" style="left:182px;top:1565px" width="24" height="24" viewBox="0 0 24 24"><path d="M8 2l9 10-9 10" fill="none" stroke="#4b5563" stroke-width="2.6" stroke-linecap="round" stroke-linejoin="round"/></svg>
<div class="t" style="left:226.5px;top:1561.06px;font-size:33px;color:#111827;font-weight:normal;letter-spacing:0.5px;font-family:'Liberation Sans',sans-serif;-webkit-text-stroke:0.4px #111827;">Ungrouped</div>
<div class="a" style="left:408px;top:1557px;width:44px;height:40px;border-radius:20px;background:#dce7fb"></div>
<div class="t" style="left:-70px;width:1000px;text-align:center;top:1564.99px;font-size:26px;color:#1e40af;font-weight:normal;letter-spacing:0px;font-family:'Liberation Sans',sans-serif;">1</div>
<div class="a" style="left:0;top:0;width:3456px;height:1px;background:#3a383d"></div>
<div class="a" style="left:128px;top:1600px;width:640px;height:112px;background:linear-gradient(to bottom,rgba(0,0,0,0) 0%,rgba(0,0,0,0.015) 40%,rgba(0,0,0,0.045) 75%,rgba(0,0,0,0.085) 100%)"></div>
<svg class="a" style="left:0;top:1690px" width="22" height="22" viewBox="0 0 22 22"><path d="M0 0 V22 H22 A21 21 0 0 1 0 0Z" fill="#000"/><path d="M1 0 A21 21 0 0 0 22 21" fill="none" stroke="#59606c" stroke-width="2"/></svg>
<svg class="a" style="left:3438px;top:1694px" width="18" height="18" viewBox="0 0 18 18"><path d="M18 0 V18 H0 A18 18 0 0 0 18 0Z" fill="#111"/></svg>
</body></html>
